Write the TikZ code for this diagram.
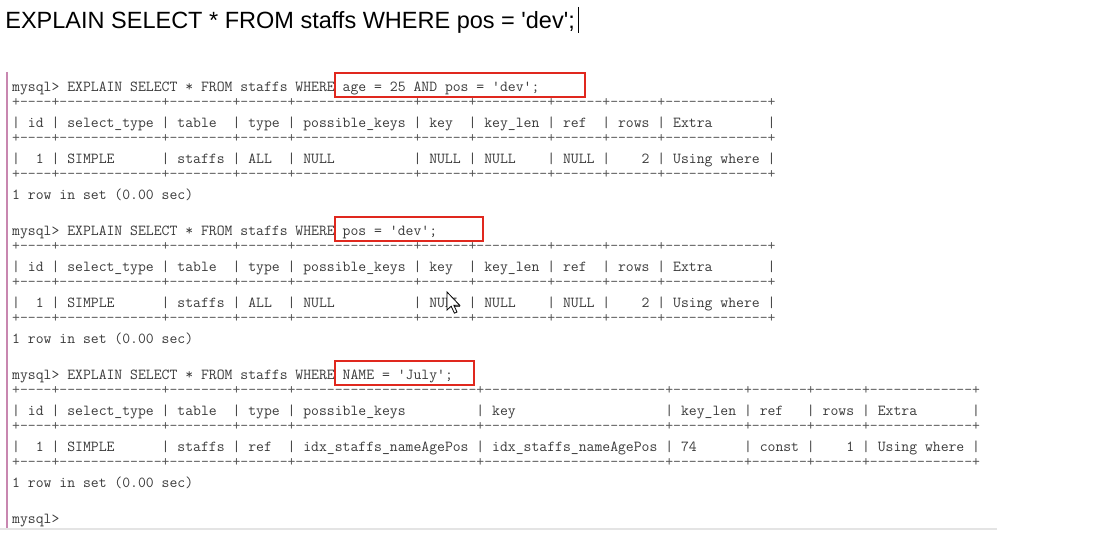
\documentclass[tikz,border=0pt]{standalone}
\usepackage{fontspec}
\newfontfamily\titlefont{Liberation Sans}
\ExplSyntaxOn
\NewDocumentCommand\sepline{m}{ + \clist_map_inline:nn {#1} { \prg_replicate:nn {##1} {\hbox{-}} + } }
\NewDocumentCommand\sps{m}{ \prg_replicate:nn {#1} {\nobreakspace} }
\ExplSyntaxOff
\newcommand\q{\textquotesingle}
\definecolor{termtext}{HTML}{3A3A3A}
\definecolor{termsep}{HTML}{555555}
\definecolor{hlred}{HTML}{E0281E}
\definecolor{barpink}{HTML}{C887B0}
\definecolor{edgegray}{HTML}{E4E4E4}
\tikzset{
  term/.style={anchor=base west, inner sep=0pt, font=\ttfamily\fontsize{15.28}{18}\selectfont, text=termtext},
  termsep/.style={term, text=termsep},
  hlbox/.style={draw=hlred, line width=2pt, inner sep=0pt, minimum height=24pt},
  titletext/.style={anchor=base west, inner sep=0pt, font=\titlefont\fontsize{23.5}{28}\selectfont, text=black},
}
\begin{document}
\begin{tikzpicture}[x=1pt,y=-1pt]
\useasboundingbox[fill=white] (0,0) rectangle (1104,534);
% window edges
\draw[barpink, line width=2.5pt] (7,72) -- (7,530);
\draw[edgegray, line width=2pt] (0,529.5) -- (997,529.5);
% title
\node[titletext] (title) at (5.2,29) {EXPLAIN SELECT * FROM staffs WHERE pos = \q dev\q;};
\coordinate (caretTop) at (578,7);
\coordinate (caretBot) at (578,33);
\draw[black, line width=1pt] (caretTop) -- (caretBot);
% ---------- block 1 ----------
\node[term] (p1) at (12,92) {mysql>~EXPLAIN~SELECT~*~FROM~staffs~WHERE~age~=~25~AND~pos~=~\q dev\q;};
\node[termsep] (s1a) at (12,106.6) {\sepline{4,13,8,6,15,6,9,6,6,13}};
\node[term] (h1) at (12,128) {|~id~|~select\_type~|~table\sps{2}|~type~|~possible\_keys~|~key\sps{2}|~key\_len~|~ref\sps{2}|~rows~|~Extra\sps{7}|};
\node[termsep] (s1b) at (12,142.6) {\sepline{4,13,8,6,15,6,9,6,6,13}};
\node[term] (r1) at (12,164) {|\sps{2}1~|~SIMPLE\sps{6}|~staffs~|~ALL\sps{2}|~NULL\sps{10}|~NULL~|~NULL\sps{4}|~NULL~|\sps{4}2~|~Using~where~|};
\node[termsep] (s1c) at (12,178.6) {\sepline{4,13,8,6,15,6,9,6,6,13}};
\node[term] (c1) at (12,200) {1~row~in~set~(0.00~sec)};
% ---------- block 2 ----------
\node[term] (p2) at (12,236) {mysql>~EXPLAIN~SELECT~*~FROM~staffs~WHERE~pos~=~\q dev\q;};
\node[termsep] (s2a) at (12,250.6) {\sepline{4,13,8,6,15,6,9,6,6,13}};
\node[term] (h2) at (12,272) {|~id~|~select\_type~|~table\sps{2}|~type~|~possible\_keys~|~key\sps{2}|~key\_len~|~ref\sps{2}|~rows~|~Extra\sps{7}|};
\node[termsep] (s2b) at (12,286.6) {\sepline{4,13,8,6,15,6,9,6,6,13}};
\node[term] (r2) at (12,308) {|\sps{2}1~|~SIMPLE\sps{6}|~staffs~|~ALL\sps{2}|~NULL\sps{10}|~NULL~|~NULL\sps{4}|~NULL~|\sps{4}2~|~Using~where~|};
\node[termsep] (s2c) at (12,322.6) {\sepline{4,13,8,6,15,6,9,6,6,13}};
\node[term] (c2) at (12,344) {1~row~in~set~(0.00~sec)};
% ---------- block 3 ----------
\node[term] (p3) at (12,380) {mysql>~EXPLAIN~SELECT~*~FROM~staffs~WHERE~NAME~=~\q July\q;};
\node[termsep] (s3a) at (12,394.6) {\sepline{4,13,8,6,23,23,9,7,6,13}};
\node[term] (h3) at (12,416) {|~id~|~select\_type~|~table\sps{2}|~type~|~possible\_keys\sps{9}|~key\sps{19}|~key\_len~|~ref\sps{3}|~rows~|~Extra\sps{7}|};
\node[termsep] (s3b) at (12,430.6) {\sepline{4,13,8,6,23,23,9,7,6,13}};
\node[term] (r3) at (12,452) {|\sps{2}1~|~SIMPLE\sps{6}|~staffs~|~ref\sps{2}|~idx\_staffs\_nameAgePos~|~idx\_staffs\_nameAgePos~|~74\sps{6}|~const~|\sps{4}1~|~Using~where~|};
\node[termsep] (s3c) at (12,466.6) {\sepline{4,13,8,6,23,23,9,7,6,13}};
\node[term] (c3) at (12,488) {1~row~in~set~(0.00~sec)};
\node[term] (p4) at (12,524) {mysql>};
% ---------- highlight boxes ----------
\node[hlbox, minimum width=250pt] (hl1) at (460,85) {};
\node[hlbox, minimum width=148pt] (hl2) at (409,229) {};
\node[hlbox, minimum width=139pt] (hl3) at (404.5,373) {};
% ---------- mouse pointer ----------
\filldraw[fill=white, draw=black, line width=0.8pt]
  (447,292) -- ++(0,18) -- ++(4.2,-3.8) -- ++(3.2,7) -- ++(2.6,-1.2) -- ++(-3.2,-6.8) -- ++(5.8,0) -- cycle;
\end{tikzpicture}
\end{document}
